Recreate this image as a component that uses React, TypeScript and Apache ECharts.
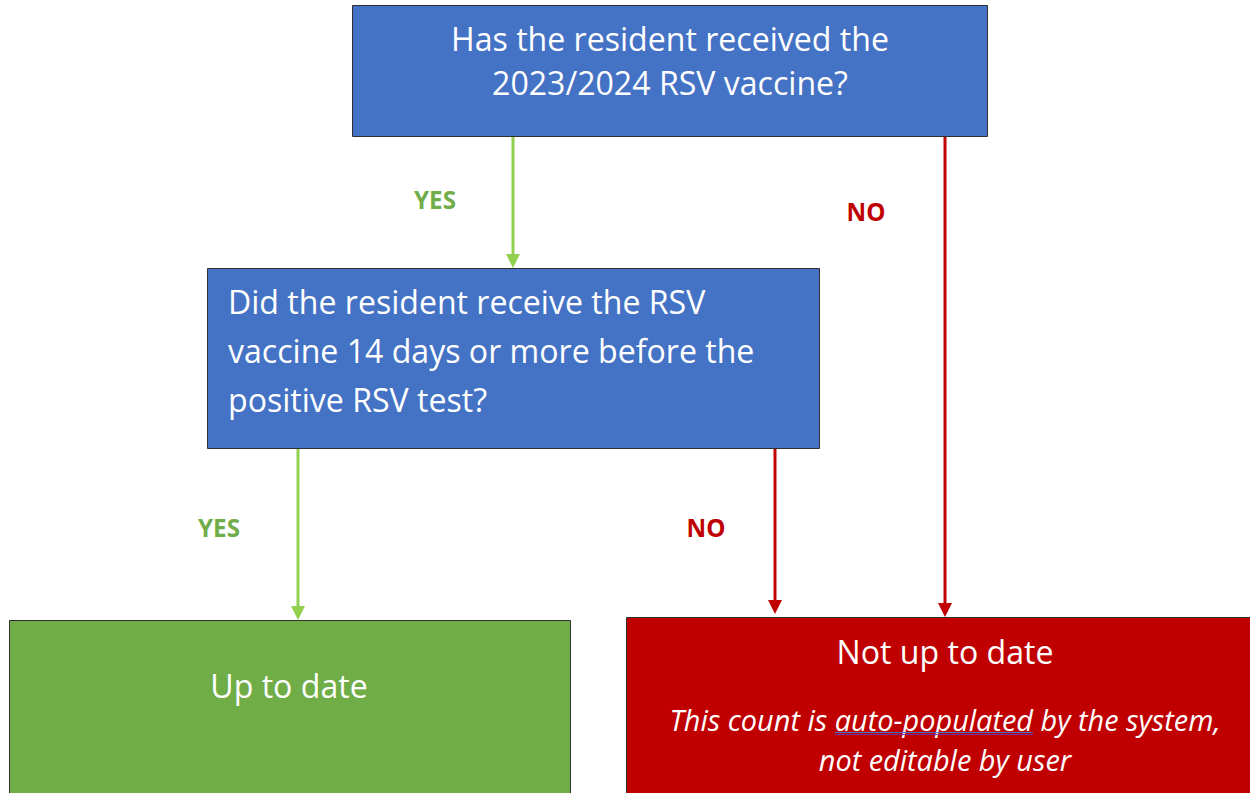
import React, { useEffect, useRef } from "react";
import * as echarts from "echarts";

const questionTop = ["Has the resident received the", "2023/2024 RSV vaccine?"];
const questionMid = [
  "Did the resident receive the RSV",
  "vaccine 14 days or more before the",
  "positive RSV test?",
];
const outcomeYes = "Up to date";
const outcomeNo = "Not up to date";
const noteLine1Pre = "This count is ";
const noteLine1Link = "auto-populated";
const noteLine1Post = " by the system,";
const noteLine2 = "not editable by user";
const edgeLabels = ["YES", "NO", "YES", "NO"];

const FONT = "'Open Sans', sans-serif";
const BLUE = "#4472C4";
const GREEN_BOX = "#70AD47";
const RED = "#C00000";
const GREEN_ARROW = "#92D050";
const BORDER = "#2F2F2F";

function measure(text: string, font: string) {
  const c = document.createElement("canvas").getContext("2d")!;
  c.font = font;
  return c.measureText(text).width;
}

// font size such that text spans the given width
function fit(text: string, width: number, style = "") {
  const w = measure(text, `${style}100px ${FONT}`);
  return Math.round((100 * width) / w * 10) / 10;
}

function arrow(x: number, y1: number, y2: number, color: string) {
  const head = 14;
  return [
    { type: "line", shape: { x1: x, y1, x2: x, y2: y2 - head + 2 }, style: { stroke: color, lineWidth: 3 } },
    {
      type: "polygon",
      shape: { points: [[x - 7, y2 - head], [x + 7, y2 - head], [x, y2]] },
      style: { fill: color },
    },
  ];
}

function box(x: number, y: number, w: number, h: number, fill: string) {
  return { type: "rect", shape: { x, y, width: w, height: h }, style: { fill, stroke: BORDER, lineWidth: 1 } };
}

function txt(text: string, x: number, y: number, size: number, color: string, align = "center", style = "") {
  return {
    type: "text",
    style: {
      text,
      x,
      y,
      fill: color,
      font: `${style}${size}px ${FONT}`,
      textAlign: align,
      textVerticalAlign: "middle",
    },
  };
}

export default function App() {
  const ref = useRef<HTMLDivElement>(null);
  useEffect(() => {
    document.body.style.margin = "0";
    const chart = echarts.init(ref.current!, null, { renderer: "svg" });
    const elements: any[] = [];

    elements.push(box(352.5, 5.5, 635, 131, BLUE));
    elements.push(box(207.5, 268.5, 612, 180, BLUE));
    elements.push(box(9.5, 620.5, 561, 180, GREEN_BOX));
    elements.push(box(626.5, 617.5, 640, 190, RED));

    elements.push(...arrow(513, 137, 268, GREEN_ARROW));
    elements.push(...arrow(945, 137, 617, RED));
    elements.push(...arrow(298, 449, 620, GREEN_ARROW));
    elements.push(...arrow(775, 449, 614, RED));

    const lblSize = fit("YES", 42, "bold ");
    elements.push(txt(edgeLabels[0], 435, 199, lblSize, GREEN_BOX, "center", "bold "));
    elements.push(txt(edgeLabels[1], 866, 211, lblSize, RED, "center", "bold "));
    elements.push(txt(edgeLabels[2], 219, 527, lblSize, GREEN_BOX, "center", "bold "));
    elements.push(txt(edgeLabels[3], 706, 527, lblSize, RED, "center", "bold "));

    const mainSize = fit(questionTop[0], 438);
    questionTop.forEach((t, i) => elements.push(txt(t, 670, 38 + i * 44, mainSize, "#fff")));
    questionMid.forEach((t, i) => elements.push(txt(t, 228, 301 + i * 49, mainSize, "#fff", "left")));
    elements.push(txt(outcomeYes, 289, 685, mainSize, "#fff"));
    elements.push(txt(outcomeNo, 945, 651, mainSize, "#fff"));

    const full = noteLine1Pre + noteLine1Link + noteLine1Post;
    const noteSize = fit(full, 552, "italic ");
    const noteFont = `italic ${noteSize}px ${FONT}`;
    const fullW = measure(full, noteFont);
    const preW = measure(noteLine1Pre, noteFont);
    const linkW = measure(noteLine1Link, noteFont);
    const startX = 945 - fullW / 2;
    elements.push(txt(full, 945, 719, noteSize, "#fff", "center", "italic "));
    elements.push(txt(noteLine2, 945, 759, noteSize, "#fff", "center", "italic "));
    elements.push({
      type: "line",
      shape: { x1: startX + preW, y1: 732.5, x2: startX + preW + linkW, y2: 732.5 },
      style: { stroke: "#4472C4", lineWidth: 1 },
    });
    elements.push({
      type: "line",
      shape: { x1: startX + preW, y1: 734.5, x2: startX + preW + linkW, y2: 734.5 },
      style: { stroke: "#7030A0", lineWidth: 1 },
    });

    chart.setOption({
      animation: false,
      backgroundColor: "#fff",
      graphic: { elements },
    });
    return () => chart.dispose();
  }, []);
  return <div ref={ref} style={{ position: "absolute", left: 0, top: 0, width: 1250, height: 793 }} />;
}
